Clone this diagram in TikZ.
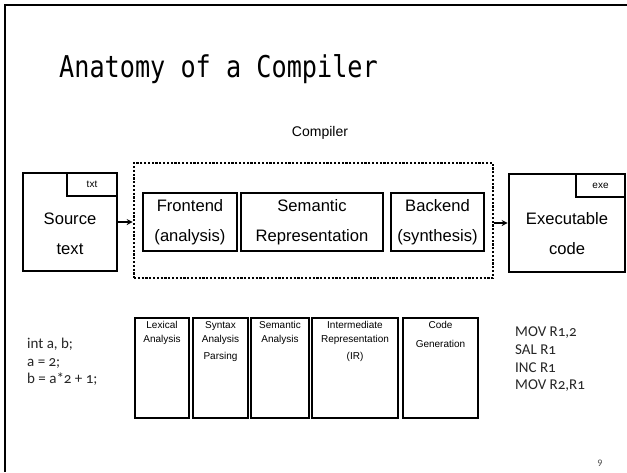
\documentclass[tikz,border=0pt]{standalone}
\usepackage{fontspec}
\setmainfont{Liberation Sans}
\newfontfamily\titlefont[FakeStretch=0.84]{DejaVu Sans Mono}
\newfontfamily\codefont[Numbers=OldStyle]{Carlito}
\newfontfamily\pagefont{Carlito}
\usetikzlibrary{arrows.meta}
\begin{document}
\begin{tikzpicture}[x=1pt,y=-1pt,
  box/.style={draw,line width=2.6pt,rectangle,inner sep=0pt,anchor=center},
  tag/.style={draw,line width=2.6pt,rectangle,inner sep=0pt,font=\fontsize{10}{12}\selectfont},
  biglabel/.style={font=\fontsize{16.6}{30}\selectfont,align=center,inner sep=0pt},
  phase/.style={draw,line width=2.8pt,rectangle,inner sep=0pt},
  phaselabel/.style={font=\fontsize{10}{14}\selectfont,align=center,inner sep=0pt,anchor=north},
  code/.style={font=\codefont\fontsize{15}{17.6}\selectfont,align=left,inner sep=0pt,anchor=north west,text=black!85},
  flow/.style={line width=1.8pt,-{Stealth[length=6pt,width=6pt]}}]
\useasboundingbox (0,0) rectangle (627,472);
\fill[white] (0,0) rectangle (627,472);
% slide frame
\draw[line width=2.5pt] (5,472) -- (5,5) -- (627,5);
% title
\node[anchor=base west,inner sep=0pt,font=\titlefont\fontsize{30}{34}\selectfont] (title) at (59,77) {Anatomy of a Compiler};
% compiler block
\node[inner sep=0pt,font=\fontsize{14}{16}\selectfont] (complabel) at (320,133) {Compiler};
\node[draw,line width=2.6pt,dash pattern=on 2.2pt off 1.6pt,minimum width=359pt,minimum height=115pt,inner sep=0pt] (comp) at (313.5,220.5) {};
\node[box,minimum width=94pt,minimum height=58pt] (front) at (190,222) {};
\node[box,minimum width=142pt,minimum height=58pt] (sem) at (312,222) {};
\node[box,minimum width=93pt,minimum height=58pt] (back) at (437.5,222) {};
\node[biglabel] (frontl) at (190,222) {Frontend\\(analysis)};
\node[biglabel] (seml) at (312,222) {Semantic\\Representation};
\node[biglabel] (backl) at (437.5,222) {Backend\\(synthesis)};
% input and output files
\node[box,minimum width=94pt,minimum height=98pt] (src) at (70,222) {};
\node[tag,minimum width=50pt,minimum height=23pt] (srctag) at (92,184.5) {txt};
\node[biglabel] (srcl) at (70,234) {Source\\text};
\node[box,minimum width=116pt,minimum height=98pt] (exe) at (567,223) {};
\node[tag,minimum width=49pt,minimum height=23pt] (exetag) at (600.5,185.5) {exe};
\node[biglabel] (exel) at (567,234) {Executable\\code};
% connectors
\draw[flow] (src.east) -- (src.east -| comp.west);
\draw[flow] (comp.east |- exe.west) -- (exe.west);
% phases
\node[phase,minimum width=54pt,minimum height=100pt] (lex) at (162,368) {};
\node[phase,minimum width=55pt,minimum height=100pt] (syn) at (220.5,368) {};
\node[phase,minimum width=58pt,minimum height=100pt] (sema) at (280,368) {};
\node[phase,minimum width=86pt,minimum height=100pt] (ir) at (355,368) {};
\node[phase,minimum width=75pt,minimum height=100pt] (gen) at (440.5,368) {};
\node[phaselabel] (lexl) at (162,321) {Lexical\\Analysis};
\node[phaselabel] (synl) at (220.5,321) {Syntax\\Analysis\\[3pt]Parsing};
\node[phaselabel] (semal) at (280,321) {Semantic\\Analysis};
\node[phaselabel] (irl) at (355,321) {Intermediate\\Representation\\[3pt](IR)};
\node[phaselabel] (genl) at (440.5,321) {Code\\[5pt]Generation};
% sample source and target code
\node[code] (srccode) at (27,338) {int a, b;\\a = 2;\\b = a*2 + 1;};
\node[code] (asm) at (515,327) {MOV R1,2\\SAL R1\\INC R1\\MOV R2,R1};
% page number
\node[inner sep=0pt,text=black!70,font=\pagefont\fontsize{10}{12}\selectfont] (page) at (600,463) {9};
\end{tikzpicture}
\end{document}
